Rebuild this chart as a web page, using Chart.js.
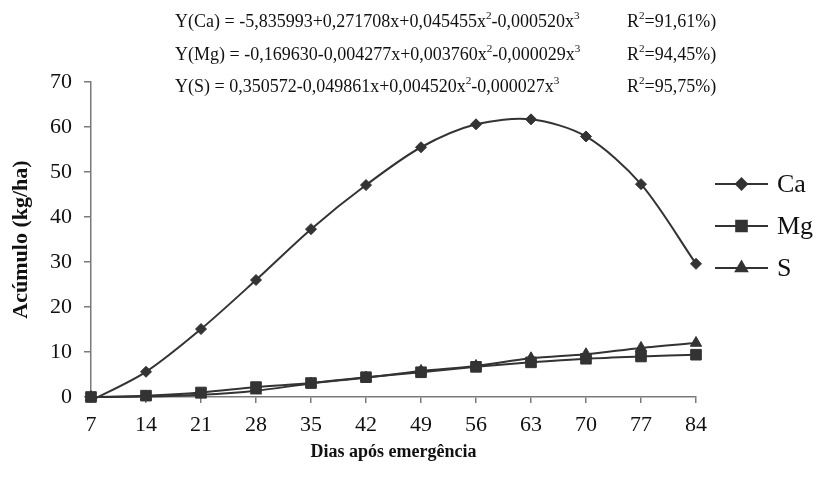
<!DOCTYPE html>
<html>
<head>
<meta charset="utf-8">
<script src="https://cdn.jsdelivr.net/npm/chart.js@4.4.1/dist/chart.umd.min.js"></script>
<style>
  html, body { margin: 0; padding: 0; background: #fff; }
  #wrap { width: 819px; height: 488px; }
</style>
</head>
<body>
<div id="wrap"><canvas id="accChart" width="819" height="488"></canvas></div>
<script>
// days after emergence
const days = ["7", "14", "21", "28", "35", "42", "49", "56", "63", "70", "77", "84"];

// accumulation (kg/ha)
const caValues = [-0.8, 5.6, 15.1, 26.0, 37.3, 47.1, 55.5, 60.6, 61.7, 57.9, 47.3, 29.6];
const mgValues = [0, 0.3, 1.0, 2.2, 3.1, 4.4, 5.5, 6.7, 7.7, 8.5, 9.0, 9.4];
const sValues = [0, 0.1, 0.5, 1.4, 3.0, 4.3, 5.8, 6.9, 8.6, 9.5, 10.9, 12.0];

const seriesNames = ["Ca", "Mg", "S"];
const markerStyles = ["rectRot", "rect", "triangle"];
const markerSizes = [5.5, 7.5, 6.5];

const equations = [
    ["Y(Ca) = -5,835993+0,271708x+0,045455x", "2", "-0,000520x", "3"],
    ["Y(Mg) = -0,169630-0,004277x+0,003760x", "2", "-0,000029x", "3"],
    ["Y(S) = 0,350572-0,049861x+0,004520x", "2", "-0,000027x", "3"]
];
const rSquared = ["=91,61%)", "=94,45%)", "=95,75%)"];

const ink = "#333333";
const axisGray = "#7a7a7a";
const serif = "'Liberation Serif', 'Times New Roman', serif";

function drawParts(ctx, parts, x, y, size) {
    parts.forEach(
        function(part, i) {
            const sup = i % 2 === 1;
            ctx.font = (sup ? size * 0.62 : size) + "px " + serif;
            ctx.fillText(part, x, sup ? y - size * 0.42 : y);
            x += ctx.measureText(part).width;
        }
    );
}

const equationPlugin = {
    id: "equations",
    afterDraw: function(chart) {
        const ctx = chart.ctx;
        ctx.save();
        ctx.fillStyle = "#111";
        ctx.textBaseline = "alphabetic";
        equations.forEach(
            function(parts, i) {
                const y = 27 + i * 32.5;
                drawParts(ctx, parts, 175, y, 18);
                drawParts(ctx, ["R", "2", rSquared[i]], 627, y, 18);
            }
        );
        ctx.restore();
    }
};

const legendPlugin = {
    id: "sideLegend",
    afterDraw: function(chart) {
        const ctx = chart.ctx;
        ctx.save();
        seriesNames.forEach(
            function(name, i) {
                const y = 184 + i * 42;
                ctx.strokeStyle = ink;
                ctx.lineWidth = 2;
                ctx.beginPath();
                ctx.moveTo(715, y);
                ctx.lineTo(768, y);
                ctx.stroke();
                ctx.fillStyle = ink;
                Chart.helpers.drawPoint(
                    ctx,
                    {
                        pointStyle: markerStyles[i],
                        radius: markerSizes[i],
                        borderWidth: 1,
                        rotation: 0
                    },
                    741.5,
                    y
                );
                ctx.fillStyle = "#111";
                ctx.font = "26px " + serif;
                ctx.textBaseline = "middle";
                ctx.fillText(name, 777, y + 1);
            }
        );
        ctx.restore();
    }
};

function makeDataset(label, values, i) {
    const radii = values.map(function() { return markerSizes[i]; });
    if (i === 0) {
        radii[0] = 0;
    }
    return {
        label: label,
        data: values,
        borderColor: ink,
        backgroundColor: ink,
        borderWidth: 2,
        tension: 0.3,
        pointStyle: markerStyles[i],
        pointRadius: radii,
        pointBackgroundColor: ink,
        pointBorderColor: ink,
        pointBorderWidth: 1,
        clip: false
    };
}

new Chart(
    document.getElementById("accChart"),
    {
        type: "line",
        data: {
            labels: days,
            datasets: [
                makeDataset(seriesNames[0], caValues, 0),
                makeDataset(seriesNames[1], mgValues, 1),
                makeDataset(seriesNames[2], sValues, 2)
            ]
        },
        options: {
            responsive: false,
            animation: false,
            events: [],
            layout: {
                padding: { top: 82, right: 123, left: 0, bottom: 0 }
            },
            plugins: {
                legend: { display: false },
                tooltip: { enabled: false }
            },
            scales: {
                x: {
                    type: "category",
                    offset: false,
                    grid: {
                        drawOnChartArea: false,
                        color: axisGray,
                        tickLength: 6,
                        lineWidth: 1.5
                    },
                    border: { color: axisGray, width: 1.5 },
                    ticks: {
                        color: "#111",
                        font: { family: serif, size: 22 },
                        padding: 9,
                        maxRotation: 0,
                        autoSkip: false
                    },
                    title: {
                        display: true,
                        text: "Dias após emergência",
                        color: "#111",
                        font: { family: serif, size: 18, weight: "bold" },
                        padding: { top: 0, bottom: 25 }
                    },
                    afterFit: function(scale) {
                        scale.height = 91;
                    }
                },
                y: {
                    min: 0,
                    max: 70,
                    grid: {
                        drawOnChartArea: false,
                        color: axisGray,
                        tickLength: 7,
                        lineWidth: 1.5
                    },
                    border: { color: axisGray, width: 1.5 },
                    ticks: {
                        stepSize: 10,
                        color: "#111",
                        font: { family: serif, size: 22 },
                        padding: 12
                    },
                    title: {
                        display: true,
                        text: "Acúmulo (kg/ha)",
                        color: "#111",
                        font: { family: serif, size: 22, weight: "bold" },
                        padding: { top: 8, bottom: 0 }
                    },
                    afterFit: function(scale) {
                        scale.width = 91;
                    }
                }
            }
        },
        plugins: [equationPlugin, legendPlugin]
    }
);
</script>
</body>
</html>
